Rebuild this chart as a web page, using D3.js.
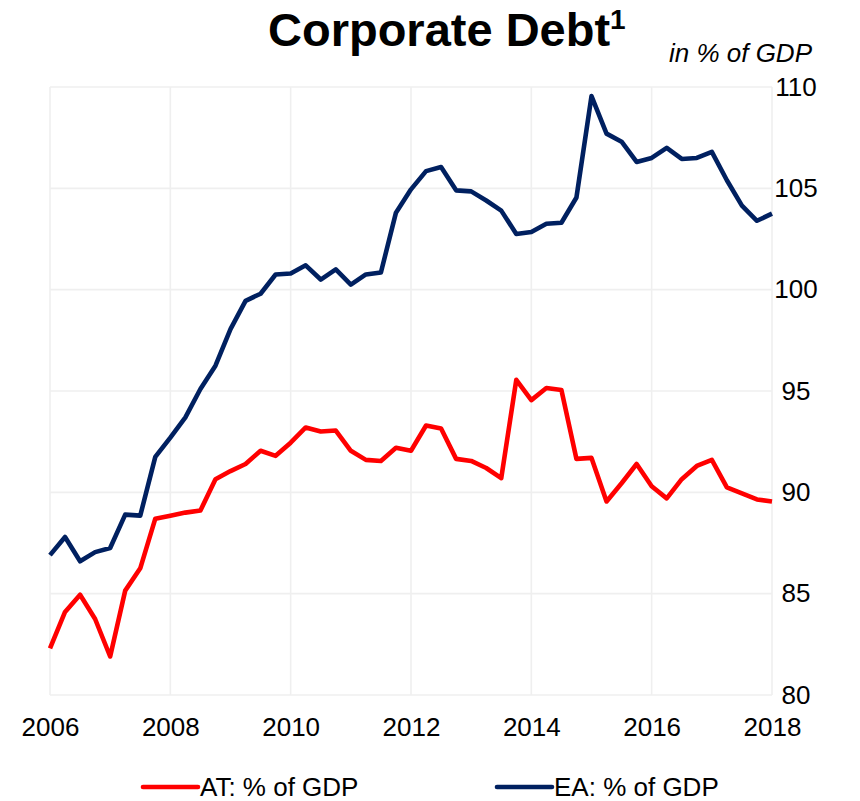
<!DOCTYPE html>
<html>
<head>
<meta charset="utf-8">
<script src="https://cdn.jsdelivr.net/npm/d3@7"></script>
<style>
  html, body { margin: 0; padding: 0; background: #fff; }
  svg { display: block; font-family: "Liberation Sans", Arial, Helvetica, sans-serif; }
</style>
</head>
<body>
<svg id="chart" width="860" height="801"></svg>
<script>
// Quarterly observations, 2006 Q1 through 2018 Q1
const startYear = 2006;
const stepYears = 0.25;

// Austria: corporate debt, % of GDP
const atValues = [
  82.3, 84.1, 84.95, 83.75, 81.9, 85.15, 86.25, 88.7, 88.85, 89.0,
  89.1, 90.65, 91.05, 91.4, 92.05, 91.8, 92.45, 93.2, 93.0, 93.05,
  92.05, 91.6, 91.55, 92.2, 92.05, 93.3, 93.15, 91.65, 91.55, 91.2,
  90.7, 95.55, 94.55, 95.15, 95.05, 91.65, 91.7, 89.55, 90.45, 91.4,
  90.3, 89.7, 90.65, 91.3, 91.6, 90.25, 89.95, 89.65, 89.55
];

// Euro area: corporate debt, % of GDP
const eaValues = [
  86.9, 87.8, 86.6, 87.05, 87.25, 88.9, 88.85, 91.75, 92.7, 93.7,
  95.1, 96.25, 98.05, 99.45, 99.8, 100.75, 100.8, 101.2, 100.5, 101.0,
  100.25, 100.75, 100.85, 103.8, 104.95, 105.85, 106.05, 104.9, 104.85, 104.4,
  103.9, 102.75, 102.85, 103.25, 103.3, 104.55, 109.55, 107.7, 107.3, 106.3,
  106.5, 107.0, 106.45, 106.5, 106.8, 105.4, 104.15, 103.4, 103.75
];

const xTicks = [2006, 2008, 2010, 2012, 2014, 2016, 2018];
const yTicks = [80, 85, 90, 95, 100, 105, 110];

const seriesNames = ["AT: % of GDP", "EA: % of GDP"];
const seriesColors = ["#ff0000", "#002060"];

const svg = d3.select("#chart");
const plotLeft = 50, plotRight = 772, plotTop = 87, plotBottom = 695;

const x = d3.scaleLinear().domain([2006, 2018]).range([plotLeft, plotRight]);
const y = d3.scaleLinear().domain([80, 110]).range([plotBottom, plotTop]);

// Grid
const grid = svg.append("g").attr("class", "grid");
grid.selectAll("line.h").data(yTicks).join("line").attr("class", "h")
  .attr("x1", plotLeft).attr("x2", plotRight)
  .attr("y1", d => y(d)).attr("y2", d => y(d))
  .attr("stroke", "#efefef").attr("stroke-width", 1.6);
grid.selectAll("line.v").data(xTicks).join("line").attr("class", "v")
  .attr("x1", d => x(d)).attr("x2", d => x(d))
  .attr("y1", plotTop).attr("y2", plotBottom)
  .attr("stroke", "#efefef").attr("stroke-width", 1.6);

// Axes (value labels centred in the right margin)
const yAxis = d3.axisRight(y).tickValues(yTicks).tickSize(0).tickPadding(24);
svg.append("g").attr("transform", `translate(${plotRight},0)`).call(yAxis)
  .call(g => g.select(".domain").remove())
  .selectAll("text").attr("font-size", 26).attr("fill", "#000")
  .attr("text-anchor", "middle")
  .style("font-family", "'Liberation Sans', Arial, sans-serif");

const xAxis = d3.axisBottom(x).tickValues(xTicks).tickFormat(d3.format("d")).tickSize(0).tickPadding(23);
svg.append("g").attr("transform", `translate(0,${plotBottom})`).call(xAxis)
  .call(g => g.select(".domain").remove())
  .selectAll("text").attr("font-size", 26).attr("fill", "#000")
  .style("font-family", "'Liberation Sans', Arial, sans-serif");

// Lines
const line = d3.line()
  .x((d, i) => x(startYear + i * stepYears))
  .y(d => y(d));

[atValues, eaValues].forEach((vals, k) => {
  svg.append("path").datum(vals)
    .attr("fill", "none")
    .attr("stroke", seriesColors[k])
    .attr("stroke-width", 4.6)
    .attr("stroke-linejoin", "round")
    .attr("d", line);
});

// Title
const title = svg.append("text")
  .attr("x", 268).attr("y", 46)
  .attr("font-size", 47).attr("font-weight", "bold").attr("fill", "#000");
title.append("tspan").text("Corporate Debt");
title.append("tspan").attr("font-size", 28).attr("dy", -17).text("1");

svg.append("text")
  .attr("x", 812).attr("y", 62).attr("text-anchor", "end")
  .attr("font-size", 26).attr("font-style", "italic").attr("fill", "#000")
  .text("in % of GDP");

// Legend
const legendX = [143, 497];
seriesNames.forEach((name, k) => {
  const g = svg.append("g").attr("transform", `translate(${legendX[k]},787)`);
  g.append("line").attr("x1", 0).attr("x2", 55).attr("y1", 0).attr("y2", 0)
    .attr("stroke", seriesColors[k]).attr("stroke-width", 4.6).attr("stroke-linecap", "round");
  g.append("text").attr("x", 57).attr("y", 9)
    .attr("font-size", 26).attr("fill", "#000").text(name);
});
</script>
</body>
</html>
